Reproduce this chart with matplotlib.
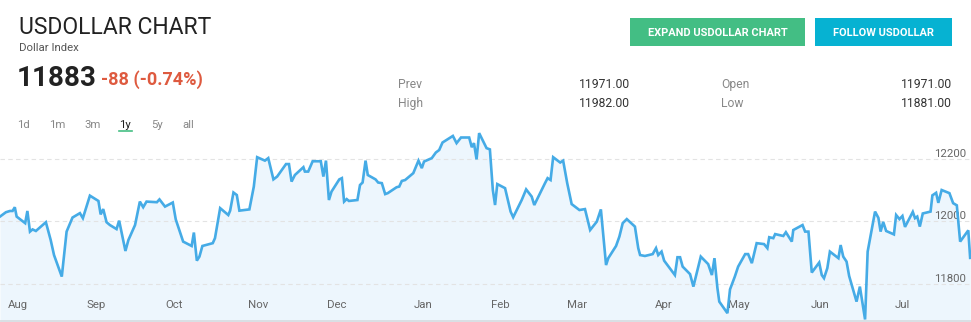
import numpy as np
import matplotlib
matplotlib.use('agg')
import matplotlib.pyplot as plt
from matplotlib.patches import Rectangle
from matplotlib.lines import Line2D

plt.rcParams['font.family'] = ['Roboto', 'DejaVu Sans']

# trading session index (one year, ~262 sessions) and index value
sessions = [0.0, 1.6, 2.7, 3.4, 4.0, 4.5, 6.8, 7.4, 8.1, 8.8, 9.7, 12.4, 13.7, 14.6, 16.7,
            18.0, 19.6, 21.6, 22.4, 24.3, 26.6, 27.2, 27.9, 28.8, 29.7, 31.5, 32.2, 33.9,
            34.7, 36.5, 37.8, 38.7, 39.6, 42.4, 43.1, 44.6, 46.7, 47.5, 49.5, 51.8, 52.4,
            53.2, 53.9, 54.7, 57.5, 58.1, 59.5, 61.7, 62.2, 63.1, 64.0, 64.7, 67.4, 68.6,
            69.5, 71.6, 72.5, 73.9, 74.9, 77.3, 78.1, 78.8, 79.7, 82.0, 82.4, 83.3, 84.5,
            86.7, 87.4, 88.1, 88.9, 89.6, 91.7, 92.4, 93.0, 93.7, 94.3, 96.6, 97.3, 98.0,
            98.8, 99.4, 101.5, 102.2, 103.2, 104.1, 104.8, 107.2, 107.9, 108.6, 109.5,
            111.7, 113.1, 114.0, 114.6, 116.7, 117.8, 118.7, 119.6, 122.4, 123.4, 124.6,
            126.8, 127.5, 128.1, 128.8, 129.5, 131.5, 132.4, 133.2, 133.8, 134.4, 136.5,
            138.0, 138.7, 141.0, 142.2, 143.7, 144.4, 147.3, 148.0, 148.8, 149.5, 151.4,
            152.2, 153.3, 154.5, 156.6, 158.1, 159.5, 161.3, 162.4, 163.8, 164.4, 166.5,
            167.4, 168.3, 169.4, 171.6, 172.5, 173.0, 174.3, 176.4, 177.3, 177.9, 178.8,
            179.5, 182.4, 183.1, 183.8, 184.5, 186.5, 187.4, 188.3, 189.4, 191.4, 192.4,
            193.1, 193.9, 194.4, 196.6, 197.3, 198.6, 199.5, 201.4, 202.2, 203.2, 204.5,
            206.5, 207.4, 207.9, 209.0, 209.5, 211.7, 212.4, 214.0, 214.4, 216.9, 217.6,
            218.5, 219.4, 221.4, 222.1, 222.7, 223.6, 224.3, 226.6, 227.2, 227.9, 228.8,
            229.5, 231.5, 232.4, 233.8, 234.5, 236.5, 237.4, 238.0, 238.7, 239.5, 241.6,
            242.2, 243.1, 243.9, 244.6, 246.7, 247.3, 247.9, 248.6, 249.4, 251.5, 252.0,
            253.0, 253.6, 254.5, 256.6, 257.6, 258.6, 259.5, 261.7, 262.2]
values = [12015, 12029, 12033, 12033, 12045, 12015, 11994, 12033, 11967, 11974, 11969, 11997,
          11940, 11892, 11823, 11967, 12012, 12026, 12010, 12082, 12065, 12022, 12039, 11997,
          11988, 11975, 12002, 11905, 11940, 11988, 12063, 12045, 12063, 12061, 12070, 12047,
          12060, 12006, 11935, 11921, 11964, 11874, 11887, 11921, 11930, 11946, 12042, 12020,
          12034, 12092, 12084, 12034, 12038, 12111, 12205, 12194, 12202, 12134, 12143, 12183,
          12183, 12127, 12148, 12173, 12159, 12159, 12192, 12192, 12143, 12194, 12068, 12095,
          12134, 12138, 12063, 12071, 12065, 12068, 12116, 12124, 12194, 12148, 12134, 12124,
          12122, 12087, 12090, 12109, 12111, 12129, 12132, 12154, 12194, 12170, 12191, 12202,
          12220, 12228, 12252, 12273, 12250, 12268, 12268, 12237, 12250, 12198, 12282, 12234,
          12230, 12100, 12052, 12119, 12106, 12031, 12013, 12068, 12102, 12079, 12052, 12122,
          12138, 12132, 12205, 12188, 12194, 12122, 12055, 12036, 12039, 11972, 11999, 12038,
          11860, 11882, 11921, 11951, 11994, 12007, 11983, 11914, 11892, 11889, 11895, 11914,
          11892, 11903, 11874, 11828, 11885, 11885, 11855, 11831, 11791, 11834, 11887, 11863,
          11828, 11882, 11786, 11743, 11706, 11782, 11823, 11855, 11895, 11895, 11866, 11930,
          11927, 11914, 11949, 11946, 11959, 11953, 11965, 11935, 11972, 11988, 11967, 11967,
          11836, 11868, 11828, 11818, 11850, 11903, 11882, 11924, 11887, 11871, 11825, 11743,
          11791, 11686, 11903, 12031, 12011, 11967, 11998, 11969, 11958, 12020, 12007, 12017,
          11982, 12030, 12010, 12015, 11983, 12025, 12031, 12083, 12091, 12059, 12100, 12090,
          12058, 12051, 11935, 11971, 11883]

month_pos = [4.7, 26.1, 47.0, 69.7, 91.1, 114.3, 135.1, 155.9, 179.5, 199.7, 221.6, 243.8]
month_labels = ['Aug', 'Sep', 'Oct', 'Nov', 'Dec', 'Jan', 'Feb', 'Mar', 'Apr', 'May', 'Jun', 'Jul']
y_ticks = [11800, 12000, 12200]

last_price = 11883
change = -88
change_pct = -0.74
stat_names = ['Prev', 'High', 'Open', 'Low']
stat_values = [11971.00, 11982.00, 11971.00, 11881.00]
ranges = ['1d', '1m', '3m', '1y', '5y', 'all']

W, H = 971, 322
LINE = '#45abe6'

fig = plt.figure(figsize=(W / 100, H / 100), dpi=100)
fig.patch.set_facecolor('white')

def fx(x):
    return x / W

def fy(y):
    return 1 - y / H

# chart area
ax = fig.add_axes([0, fy(321), 1, (321 - 130) / H])
ax.set_facecolor('white')
ax.plot(sessions, values, color=LINE, lw=1.9, zorder=3, solid_joinstyle='miter')
ax.fill_between(sessions, values, 11600, color='#edf6fd', zorder=1, lw=0)
ax.set_xlim(0, W / 3.7)
ax.set_ylim(11681, 12292)
ax.set_yticks(y_ticks)
ax.grid(axis='y', color='#e3e3e3', linestyle=(0, (4, 3)), linewidth=0.8, zorder=2)
ax.set_axisbelow(False)
ax.yaxis.tick_right()
ax.tick_params(axis='y', length=0, pad=-3.5, labelsize=8.2, labelcolor='#666666')
for lab in ax.get_yticklabels():
    lab.set_horizontalalignment('right')
    lab.set_verticalalignment('bottom')
    lab.set_zorder(2)
ax.set_xticks(month_pos)
ax.set_xticklabels(month_labels)
ax.tick_params(axis='x', length=0, pad=-15, labelsize=8.2, labelcolor='#666666')
for s in ['top', 'left', 'right']:
    ax.spines[s].set_visible(False)
ax.spines['bottom'].set_color('#d6dbe0')
ax.spines['bottom'].set_linewidth(1.2)

# header
fig.text(fx(19), fy(34), 'USDOLLAR CHART', fontsize=16.5, color='#222222', va='baseline')
fig.text(fx(19), fy(51), 'Dollar Index', fontsize=8.2, color='#555555', va='baseline')
fig.text(fx(17), fy(86), f'{last_price}', fontsize=20, fontweight='bold', color='#222222', va='baseline')
fig.text(fx(101), fy(85), f'{change} ({change_pct:.2f}%)', fontsize=13, fontweight='bold',
         color='#de5a3f', va='baseline')

tab_x = [17, 49, 84, 119, 151, 182]
for t, x in zip(ranges, tab_x):
    c = '#222222' if t == '1y' else '#888888'
    fig.text(fx(x), fy(127.5), t, fontsize=8.2, color=c, va='baseline')
fig.add_artist(Line2D([fx(119), fx(132)], [fy(131), fy(131)], color='#45bf84', lw=1.2))

# stats table
stat_rows = [84, 104, 84, 104]
stat_lx = [398, 398, 721, 721]
stat_rx = [630, 630, 952, 952]
for n, v, yy, lx, rx in zip(stat_names, stat_values, stat_rows, stat_lx, stat_rx):
    fig.text(fx(lx), fy(yy), n, fontsize=8.7, color='#888888', va='center')
    fig.text(fx(rx), fy(yy), f'{v:.2f}', fontsize=8.7, color='#333333', va='center', ha='right')

# buttons
fig.add_artist(Rectangle((fx(630), fy(46)), fx(175), 28 / H, color='#43be84', lw=0))
fig.add_artist(Rectangle((fx(815), fy(46)), fx(137), 28 / H, color='#06b2d2', lw=0))
fig.text(fx(717.5), fy(32.5), 'EXPAND USDOLLAR CHART', fontsize=7.9, fontweight='bold',
         color='white', ha='center', va='center')
fig.text(fx(883.5), fy(32.5), 'FOLLOW USDOLLAR', fontsize=7.9, fontweight='bold',
         color='white', ha='center', va='center')

fig.savefig('out.png', dpi=100)
